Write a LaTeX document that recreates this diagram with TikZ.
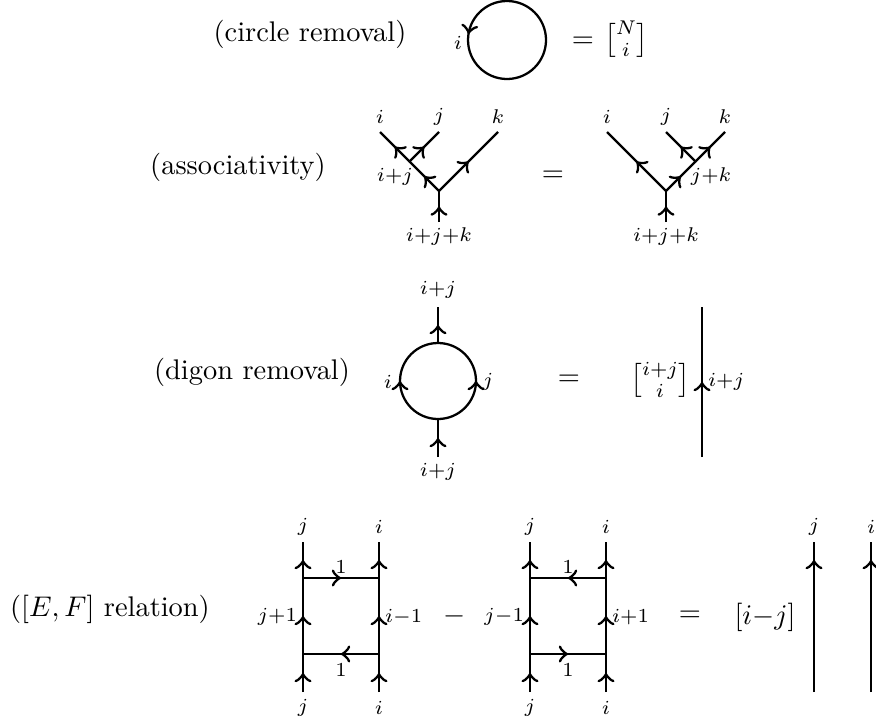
\documentclass[tikz,border=0pt]{standalone}
\usepackage{amsmath}
\usetikzlibrary{decorations.markings}
\newcommand{\lbl}[1]{$\scriptstyle #1$}
\begin{document}
\begin{tikzpicture}[x=0.352pt,y=0.352pt,line width=0.8pt,
  midarrow/.style={postaction={decorate},decoration={markings,mark=at position #1 with {\arrow[scale=1.25]{>}}}},
  midarrow/.default=0.5,
  lab/.style={inner sep=0pt},
  title/.style={inner sep=0pt}]
\useasboundingbox (0,0) rectangle (876,719);

% ---------- row 1: circle removal
\node[title] (t1) at (310,685) {(circle removal)};
\coordinate (ctop) at (507,718);
\coordinate (cbot) at (507,640);
\draw[midarrow=0.45] (ctop) arc[start angle=90,end angle=270,radius=39];
\draw (cbot) arc[start angle=-90,end angle=90,radius=39];
\node[lab] (ci) at (458,676) {\lbl{i}};
\node (eq1) at (583,677) {$=$};
\node (bn1) at (626,680) {$\genfrac{[}{]}{0pt}{}{N}{i}$};

% ---------- row 2: associativity
\node[title] (t2) at (238,552) {(associativity)};
% left tree
\coordinate (aJ0) at (439,528);
\coordinate (aB) at (439,497);
\coordinate (aJ1) at (409.5,557.5);
\coordinate (aI) at (380,587);
\coordinate (aJ) at (439,587);
\coordinate (aK) at (498,587);
\draw[midarrow] (aB) -- (aJ0);
\draw[midarrow] (aJ0) -- (aJ1);
\draw[midarrow] (aJ1) -- (aI);
\draw[midarrow] (aJ1) -- (aJ);
\draw[midarrow] (aJ0) -- (aK);
\node[lab] (lai) at (380,602) {\lbl{i}};
\node[lab] (laj) at (439,602) {\lbl{j}};
\node[lab] (lak) at (498,602) {\lbl{k}};
\node[lab] (laij) at (395,542) {\lbl{i+j}};
\node[lab] (laijk) at (439,482) {\lbl{i+j+k}};
\node (eq2) at (553,543) {$=$};
% right tree
\coordinate (bJ0) at (666,528);
\coordinate (bB) at (666,497);
\coordinate (bJ2) at (695.5,557.5);
\coordinate (bI) at (607,587);
\coordinate (bJ) at (666,587);
\coordinate (bK) at (725,587);
\draw[midarrow] (bB) -- (bJ0);
\draw[midarrow] (bJ0) -- (bI);
\draw[midarrow] (bJ0) -- (bJ2);
\draw[midarrow] (bJ2) -- (bJ);
\draw[midarrow] (bJ2) -- (bK);
\node[lab] (lbi) at (607,602) {\lbl{i}};
\node[lab] (lbj) at (666,602) {\lbl{j}};
\node[lab] (lbk) at (725,602) {\lbl{k}};
\node[lab] (lbjk) at (711,542) {\lbl{j+k}};
\node[lab] (lbijk) at (666,482) {\lbl{i+j+k}};

% ---------- row 3: digon removal
\node[title] (t3) at (252,347) {(digon removal)};
\coordinate (dT) at (438,376);
\coordinate (dB) at (438,300);
\coordinate (dTop) at (438,412);
\coordinate (dBot) at (438,262);
\draw[midarrow] (dBot) -- (dB);
\draw[midarrow] (dT) -- (dTop);
\draw[midarrow] (dB) arc[start angle=-90,end angle=-270,radius=38];
\draw[midarrow] (dB) arc[start angle=-90,end angle=90,radius=38];
\node[lab] (ldt) at (438,429) {\lbl{i+j}};
\node[lab] (ldb) at (438,247) {\lbl{i+j}};
\node[lab] (ldi) at (388,337) {\lbl{i}};
\node[lab] (ldj) at (488,337) {\lbl{j}};
\node (eq3) at (569,339) {$=$};
\node (bn2) at (660,339) {$\genfrac{[}{]}{0pt}{}{i+j}{i}$};
\coordinate (vB) at (702,262);
\coordinate (vT) at (702,412);
\draw[midarrow] (vB) -- (vT);
\node[lab,anchor=west] (lv) at (707,337) {\lbl{i+j}};

% ---------- row 4: [E,F] relation
\node[title] (t4) at (110,110) {$([E,F]$ relation$)$};
% ladder 1
\coordinate (p1) at (303,27);  \coordinate (p2) at (303,65);
\coordinate (p3) at (303,141); \coordinate (p4) at (303,177);
\coordinate (q1) at (379,27);  \coordinate (q2) at (379,65);
\coordinate (q3) at (379,141); \coordinate (q4) at (379,177);
\draw[midarrow] (p1) -- (p2);
\draw[midarrow] (p2) -- (p3);
\draw[midarrow] (p3) -- (p4);
\draw[midarrow] (q1) -- (q2);
\draw[midarrow] (q2) -- (q3);
\draw[midarrow] (q3) -- (q4);
\draw[midarrow] (p3) -- (q3);
\draw[midarrow] (q2) -- (p2);
\node[lab] (l1a) at (303,192) {\lbl{j}};
\node[lab] (l1b) at (379,192) {\lbl{i}};
\node[lab] (l1c) at (303,11) {\lbl{j}};
\node[lab] (l1d) at (379,11) {\lbl{i}};
\node[lab] (l1e) at (341,152) {\lbl{1}};
\node[lab] (l1f) at (341,49) {\lbl{1}};
\node[lab,anchor=east] (l1g) at (298,102) {\lbl{j+1}};
\node[lab,anchor=west] (l1h) at (384,102) {\lbl{i-1}};
\node (mn) at (455,103) {$-$};
% ladder 2
\coordinate (r1) at (530,27);  \coordinate (r2) at (530,65);
\coordinate (r3) at (530,141); \coordinate (r4) at (530,177);
\coordinate (s1) at (606,27);  \coordinate (s2) at (606,65);
\coordinate (s3) at (606,141); \coordinate (s4) at (606,177);
\draw[midarrow] (r1) -- (r2);
\draw[midarrow] (r2) -- (r3);
\draw[midarrow] (r3) -- (r4);
\draw[midarrow] (s1) -- (s2);
\draw[midarrow] (s2) -- (s3);
\draw[midarrow] (s3) -- (s4);
\draw[midarrow] (s3) -- (r3);
\draw[midarrow] (r2) -- (s2);
\node[lab] (l2a) at (530,192) {\lbl{j}};
\node[lab] (l2b) at (606,192) {\lbl{i}};
\node[lab] (l2c) at (530,11) {\lbl{j}};
\node[lab] (l2d) at (606,11) {\lbl{i}};
\node[lab] (l2e) at (568,152) {\lbl{1}};
\node[lab] (l2f) at (568,49) {\lbl{1}};
\node[lab,anchor=east] (l2g) at (525,102) {\lbl{j-1}};
\node[lab,anchor=west] (l2h) at (611,102) {\lbl{i+1}};
\node (eq4) at (690,103) {$=$};
\node (br) at (765,102) {$[i{-}j]$};
\coordinate (u1) at (814,27); \coordinate (u2) at (814,177);
\coordinate (w1) at (871,27); \coordinate (w2) at (871,177);
\draw[midarrow=0.88] (u1) -- (u2);
\draw[midarrow=0.88] (w1) -- (w2);
\node[lab] (l3a) at (814,192) {\lbl{j}};
\node[lab] (l3b) at (871,192) {\lbl{i}};
\end{tikzpicture}
\end{document}
